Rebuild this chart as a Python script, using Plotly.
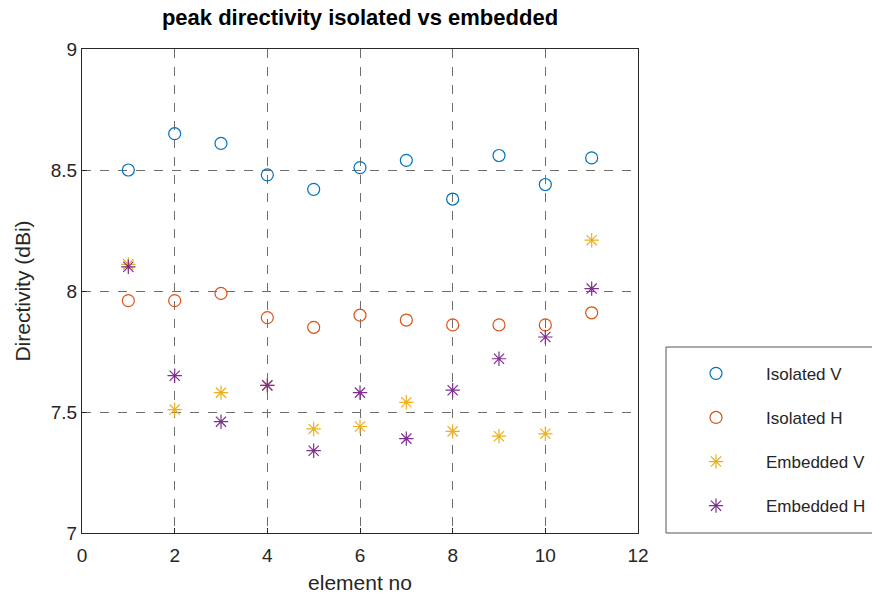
import plotly.graph_objects as go

# element index along the array
element_no = [1, 2, 3, 4, 5, 6, 7, 8, 9, 10, 11]

# peak directivity (dBi) per element
isolated_v = [8.50, 8.65, 8.61, 8.48, 8.42, 8.51, 8.54, 8.38, 8.56, 8.44, 8.55]
isolated_h = [7.96, 7.96, 7.99, 7.89, 7.85, 7.90, 7.88, 7.86, 7.86, 7.86, 7.91]
embedded_v = [8.11, 7.51, 7.58, 7.61, 7.43, 7.44, 7.54, 7.42, 7.40, 7.41, 8.21]
embedded_h = [8.10, 7.65, 7.46, 7.61, 7.34, 7.58, 7.39, 7.59, 7.72, 7.81, 8.01]

x_ticks = [0, 2, 4, 6, 8, 10, 12]
y_ticks = [7, 7.5, 8, 8.5, 9]
y_tick_text = ["7", "7.5", "8", "8.5", "9"]

series = [
    ("Isolated V", isolated_v, "#0072BD", "circle-open"),
    ("Isolated H", isolated_h, "#D95319", "circle-open"),
    ("Embedded V", embedded_v, "#EDB120", "asterisk-open"),
    ("Embedded H", embedded_h, "#7E2F8E", "asterisk-open"),
]

FONT = "Liberation Sans, Arial, sans-serif"
INK = "#262626"

# plot-area geometry in pixels
W, H = 872, 597
L, R, T, B = 82, 234, 49, 64
PW, PH = W - L - R, H - T - B

fig = go.Figure()
for i, (name, vals, color, symbol) in enumerate(series):
    fig.add_trace(go.Scatter(
        x=element_no, y=vals, mode="markers", name=name,
        legendgroup=f"g{i}",
        marker=dict(symbol=symbol, size=12, color=color,
                    line=dict(color=color, width=1.2)),
    ))

axis_common = dict(
    showline=True, linecolor=INK, linewidth=1, mirror=True,
    showgrid=True, gridcolor="#6e6e6e", griddash="dash", gridwidth=1,
    zeroline=False, ticks="inside", ticklen=5, tickcolor=INK,
    tickfont=dict(family=FONT, size=19, color=INK),
)

fig.update_xaxes(
    range=[0, 12], tickvals=x_ticks, ticklabelstandoff=5,
    title=dict(text="element no", font=dict(family=FONT, size=21, color=INK), standoff=10),
    **axis_common,
)
fig.update_yaxes(
    range=[7, 9], tickvals=y_ticks, ticktext=y_tick_text,
    title=dict(text="Directivity (dBi)", font=dict(family=FONT, size=21, color=INK), standoff=14),
    **axis_common,
)

# legend frame, running off the right edge of the page
fig.add_shape(
    type="rect", xref="paper", yref="paper",
    x0=(666 - L) / PW, x1=(W + 20 - L) / PW, y0=0, y1=(533 - 347) / PH,
    line=dict(color="#555555", width=1), fillcolor="white", layer="below",
)

fig.update_layout(
    width=W, height=H,
    margin=dict(l=L, r=R, t=T, b=B, autoexpand=False),
    paper_bgcolor="white", plot_bgcolor="white",
    title=dict(text="<b>peak directivity isolated vs embedded</b>",
               font=dict(family=FONT, size=22, color="black"),
               x=(L + PW / 2) / W, xanchor="center", y=1 - 17 / H, yanchor="middle"),
    legend=dict(
        x=(666 - L) / PW, xanchor="left", y=0.019, yanchor="bottom",
        borderwidth=0, bgcolor="rgba(0,0,0,0)",
        font=dict(family=FONT, size=17, color=INK),
        tracegroupgap=19, itemwidth=90,
    ),
    showlegend=True,
)

fig.write_html("out.html")
